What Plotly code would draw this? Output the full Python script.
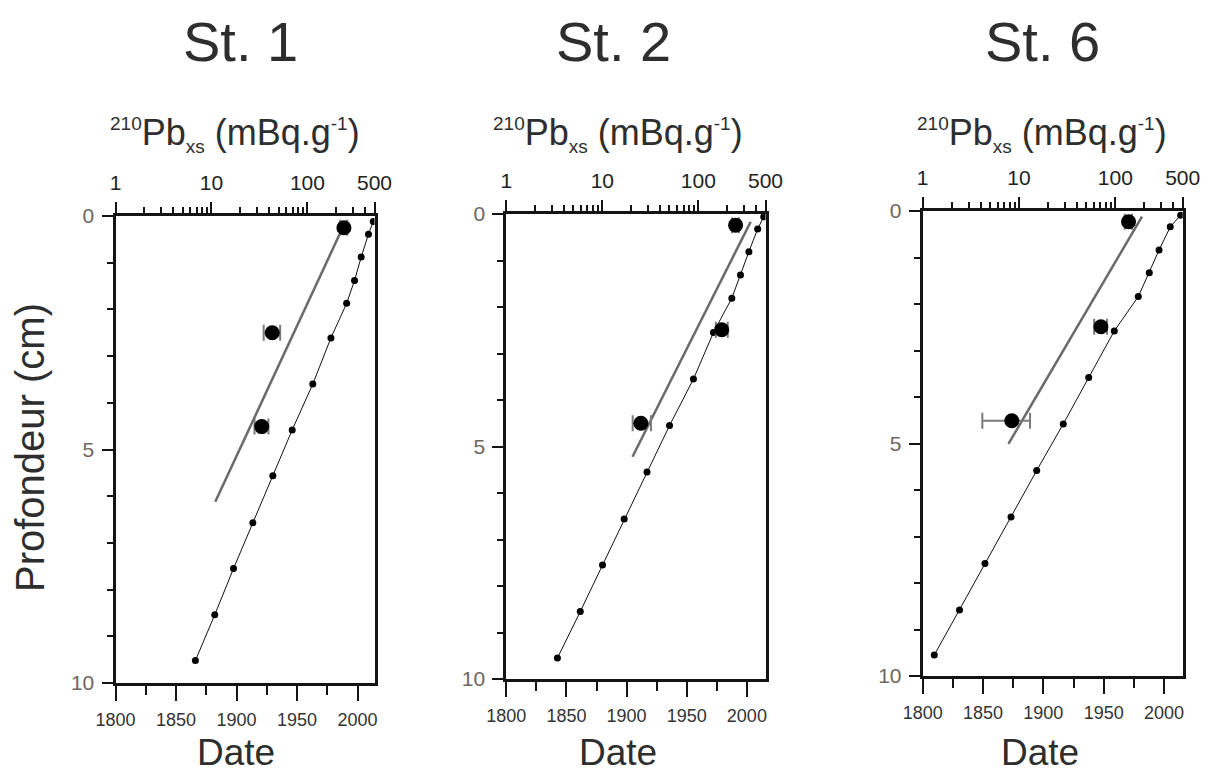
import plotly.graph_objects as go

WIN_W, WIN_H = 1209, 774
OFF = 8  # default page body margin
FW, FH = WIN_W - 2 * OFF, WIN_H - 2 * OFF
FONT = "Liberation Sans, Arial, sans-serif"

# ---------------- data ----------------
stations = ["St. 1", "St. 2", "St. 6"]

# CRS-type dating (date vs depth)
st1_dates = [2013, 2009, 2003, 1997.5, 1991, 1978, 1963, 1946, 1930, 1913.5, 1897.5, 1882, 1866]
st1_depths = [0.12, 0.39, 0.88, 1.38, 1.87, 2.61, 3.6, 4.58, 5.56, 6.57, 7.55, 8.54, 9.52]
st2_dates = [2014, 2009, 2001.7, 1994.7, 1987.5, 1972.2, 1955.6, 1935.7, 1917, 1898, 1880, 1861.5, 1842.5]
st2_depths = [0.06, 0.32, 0.81, 1.31, 1.81, 2.55, 3.55, 4.55, 5.55, 6.56, 7.55, 8.55, 9.55]
st6_dates = [2013.8, 2005.2, 1995.9, 1987.8, 1978.7, 1958.8, 1937.6, 1916.5, 1894.5, 1873.2, 1851.6, 1830.5, 1809.6]
st6_depths = [0.09, 0.34, 0.84, 1.33, 1.84, 2.58, 3.58, 4.58, 5.58, 6.58, 7.58, 8.58, 9.55]

# 210Pb excess activity (mBq/g) with errors
st1_pb = [240, 43, 33.4]
st1_pb_err_plus = [20, 9, 5.8]
st1_pb_err_minus = [20, 8, 5.3]
st1_pb_depths = [0.25, 2.5, 4.51]
st2_pb = [244, 175, 25.2]
st2_pb_err_plus = [20, 27, 6.9]
st2_pb_err_minus = [20, 23, 4.5]
st2_pb_depths = [0.24, 2.49, 4.5]
st6_pb = [137, 70.8, 8.41]
st6_pb_err_plus = [12, 11, 4.6]
st6_pb_err_minus = [12, 10.5, 4.25]
st6_pb_depths = [0.23, 2.49, 4.51]

# exponential fit lines (activity, depth) end points
st1_fit_pb = [220, 10.96]
st1_fit_depth = [0.36, 6.12]
st2_fit_pb = [350, 20.6]
st2_fit_depth = [0.17, 5.22]
st6_fit_pb = [189, 7.76]
st6_fit_depth = [0.12, 5.01]

date_ticks = [1800, 1850, 1900, 1950, 2000]
pb_ticks = [1, 10, 100, 500]
pb_minor = [2, 3, 4, 5, 6, 7, 8, 9, 20, 30, 40, 50, 60, 70, 80, 90, 200, 300, 400]
depth_ticks = [0, 5, 10]

# ---------------- layout geometry (window pixels) ----------------
panels = [
    dict(x0=115.5, x1=374.5, y0=216, y1=683, dmax=2014),
    dict(x0=506.3, x1=765.5, y0=214, y1=679, dmax=2015.5),
    dict(x0=922.7, x1=1182.7, y0=211, y1=676, dmax=2015.5),
]
series = [
    (st1_dates, st1_depths, st1_pb, st1_pb_err_plus, st1_pb_err_minus, st1_pb_depths, st1_fit_pb, st1_fit_depth),
    (st2_dates, st2_depths, st2_pb, st2_pb_err_plus, st2_pb_err_minus, st2_pb_depths, st2_fit_pb, st2_fit_depth),
    (st6_dates, st6_depths, st6_pb, st6_pb_err_plus, st6_pb_err_minus, st6_pb_depths, st6_fit_pb, st6_fit_depth),
]
title_x = [240, 613, 1042]
pb_label_x = [235, 618, 1042]
date_label_x = [236, 618, 1040]


def px(xw):
    return (xw - OFF) / FW


def py(yw):
    return 1 - (yw - OFF) / FH


fig = go.Figure()
layout = dict(
    width=FW, height=FH, margin=dict(l=0, r=0, t=0, b=0, pad=0, autoexpand=False),
    paper_bgcolor="white", plot_bgcolor="white", showlegend=False,
    font=dict(family=FONT, color="#333333"),
)
annotations = []
AX = "#141414"

for i, (p, s) in enumerate(zip(panels, series)):
    dates, depths, pb, ep, em, pbd, fpb, fd = s
    xb = 2 * i + 1
    xt = 2 * i + 2
    yi = i + 1
    xb_name = "x" if xb == 1 else f"x{xb}"
    xt_name = f"x{xt}"
    y_name = "y" if yi == 1 else f"y{yi}"
    dom_x = [px(p["x0"]), px(p["x1"])]
    dom_y = [py(p["y1"]), py(p["y0"])]

    layout["xaxis" if xb == 1 else f"xaxis{xb}"] = dict(
        domain=dom_x, anchor=y_name, side="bottom", range=[1800, p["dmax"]], automargin=False,
        tickmode="array", tickvals=date_ticks, ticks="outside", ticklen=15, tickwidth=2,
        tickcolor=AX, showline=True, linewidth=3, linecolor=AX, showgrid=False, zeroline=False,
        minor=dict(dtick=25, tick0=1800, ticks="outside", ticklen=9, tickwidth=2, tickcolor=AX, showgrid=False),
        tickfont=dict(size=18, color="#333333"), ticklabelstandoff=3, fixedrange=True,
    )
    layout[f"xaxis{xt}"] = dict(
        domain=dom_x, anchor=y_name, overlaying=xb_name, side="top", type="log", automargin=False,
        range=[0, 2.69897],
        tickmode="array", tickvals=pb_ticks, ticktext=[str(v) for v in pb_ticks],
        ticks="outside", ticklen=11, tickwidth=2, tickcolor=AX,
        showline=True, linewidth=3, linecolor=AX, showgrid=False, zeroline=False,
        minor=dict(tickmode="array", tickvals=pb_minor, ticks="outside", ticklen=6, tickwidth=2,
                   tickcolor=AX, showgrid=False),
        tickfont=dict(size=21, color="#222222"), ticklabelstandoff=4, fixedrange=True,
    )
    layout["yaxis" if yi == 1 else f"yaxis{yi}"] = dict(
        domain=dom_y, anchor=xb_name, range=[10, 0], automargin=False,
        tickmode="array", tickvals=depth_ticks, ticks="outside", ticklen=11, tickwidth=2,
        tickcolor=AX, showline=True, linewidth=3, linecolor=AX, mirror=True,
        showgrid=False, zeroline=False,
        minor=dict(dtick=1, ticks="outside", ticklen=6, tickwidth=2, tickcolor=AX, showgrid=False),
        tickfont=dict(size=21, color="#6e6660"), ticklabelstandoff=3, fixedrange=True,
    )

    # dating curve
    fig.add_trace(go.Scatter(
        x=dates, y=depths, xaxis=xb_name, yaxis=y_name, mode="lines+markers",
        line=dict(color="#111111", width=1),
        marker=dict(color="#000000", size=7, symbol="circle"),
        hoverinfo="skip",
    ))
    # fit line
    fig.add_trace(go.Scatter(
        x=fpb, y=fd, xaxis=xt_name, yaxis=y_name, mode="lines",
        line=dict(color="#6a6a6a", width=2.5), hoverinfo="skip",
    ))
    # 210Pb points
    fig.add_trace(go.Scatter(
        x=pb, y=pbd, xaxis=xt_name, yaxis=y_name, mode="markers",
        marker=dict(color="#000000", size=15),
        error_x=dict(type="data", symmetric=False, array=ep, arrayminus=em,
                     color="#7a7a7a", thickness=2, width=8),
        hoverinfo="skip",
    ))

    annotations.append(dict(
        text=stations[i], x=px(title_x[i]), y=py(42), xref="paper", yref="paper",
        showarrow=False, xanchor="center", yanchor="middle",
        font=dict(size=56, color="#2e2e2e", family=FONT),
    ))
    annotations.append(dict(
        text="<sup><span style='font-size:19px'>210</span></sup>Pb<sub><span style='font-size:19px'>xs</span></sub> (mBq.g<sup><span style='font-size:19px'>-1</span></sup>)",
        x=px(pb_label_x[i]), y=py(134), xref="paper", yref="paper",
        showarrow=False, xanchor="center", yanchor="middle",
        font=dict(size=36, color="#2e2e2e", family=FONT),
    ))
    annotations.append(dict(
        text="Date", x=px(date_label_x[i]), y=py(752), xref="paper", yref="paper",
        showarrow=False, xanchor="center", yanchor="middle",
        font=dict(size=37, color="#2e2e2e", family=FONT),
    ))

annotations.append(dict(
    text="Profondeur (cm)", x=px(30), y=py(448), xref="paper", yref="paper",
    showarrow=False, xanchor="center", yanchor="middle", textangle=-90,
    font=dict(size=40, color="#2e2e2e", family=FONT),
))
layout["annotations"] = annotations
fig.update_layout(**layout)
fig.write_html("out.html")
